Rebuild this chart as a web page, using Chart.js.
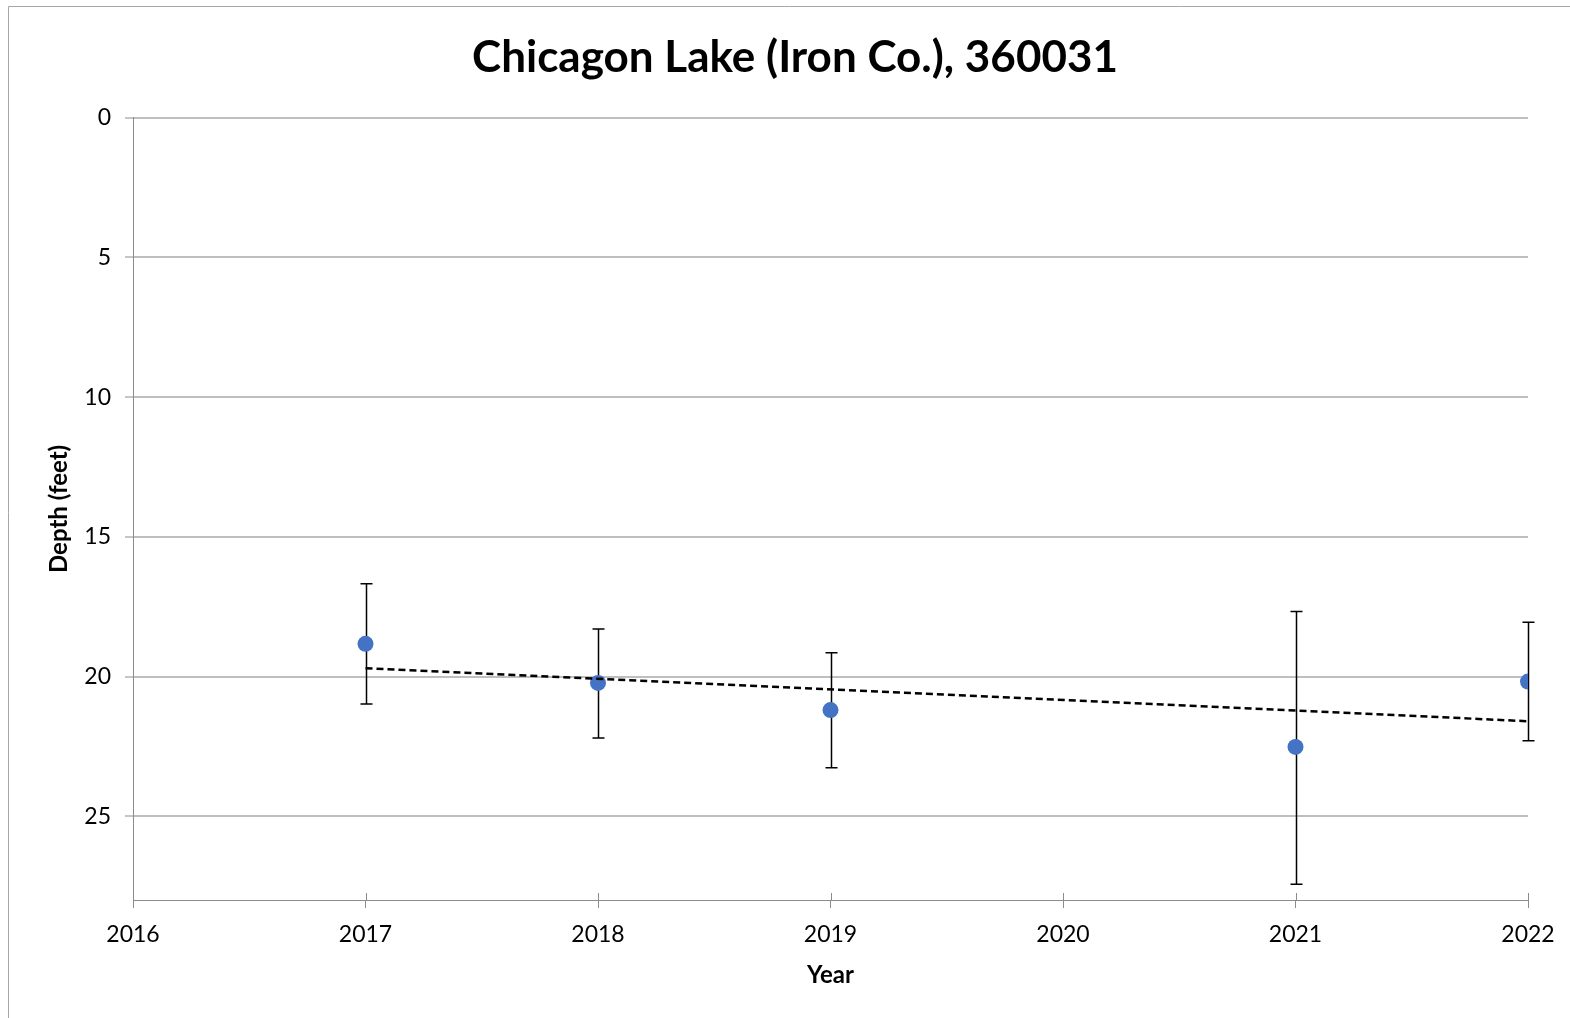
<!DOCTYPE html>
<html>
<head>
<meta charset="utf-8">
<script src="https://cdn.jsdelivr.net/npm/chart.js@4.4.1/dist/chart.umd.min.js"></script>
<style>
    html, body { margin: 0; padding: 0; background: #fff; }
    #wrap { width: 1570px; height: 1018px; position: relative; }
</style>
</head>
<body>
<div id="wrap"><canvas id="depthChart" width="1570" height="1018"></canvas></div>
<script>

// secchi depth by year (feet)
const years = [2017, 2018, 2019, 2021, 2022];
const depths = [18.83, 20.23, 21.2, 22.52, 20.18];
const errPlus = [2.15, 1.97, 2.07, 4.92, 2.12];
const errMinus = [2.15, 1.93, 2.05, 4.85, 2.12];

// linear trend endpoints
const trendYears = [2017, 2022];
const trendDepths = [19.7, 21.6];

const yTicks = [0, 5, 10, 15, 20, 25];

const FONT = "Lato, 'Open Sans', sans-serif";

const errorBars = {
    id: "errorBars",
    beforeDatasetsDraw(chart){
        const {ctx, scales:{x, y}} = chart;
        ctx.save();
        ctx.strokeStyle = "#000";
        ctx.lineWidth = 1.5;
        years.forEach((yr, i) => {
            const px = Math.round(x.getPixelForValue(yr)) + 0.5;
            const top = y.getPixelForValue(depths[i] - errMinus[i]);
            const bot = y.getPixelForValue(depths[i] + errPlus[i]);
            ctx.beginPath();
            ctx.moveTo(px, top);
            ctx.lineTo(px, bot);
            ctx.moveTo(px - 6, top);
            ctx.lineTo(px + 6, top);
            ctx.moveTo(px - 6, bot);
            ctx.lineTo(px + 6, bot);
            ctx.stroke();
        });
        ctx.restore();
    }
};

const frame = {
    id: "frame",
    afterLayout(chart){
        // centre the title on the whole chart box, not the padded area
        if (chart.titleBlock) {
            chart.titleBlock.left = 8;
            chart.titleBlock.right = 1582;
        }
    },
    afterDraw(chart){
        const {ctx, scales:{x}, chartArea} = chart;
        ctx.save();
        ctx.strokeStyle = "#a6a6a6";
        ctx.lineWidth = 1;
        // outer chart border (only left and top are inside the picture)
        ctx.beginPath();
        ctx.moveTo(8.5, 1018);
        ctx.lineTo(8.5, 6.5);
        ctx.lineTo(1570, 6.5);
        ctx.stroke();
        // cross tick marks above the x axis
        ctx.strokeStyle = "#8c8c8c";
        x.ticks.forEach(t => {
            const px = Math.round(x.getPixelForValue(t.value)) + 0.5;
            ctx.beginPath();
            ctx.moveTo(px, chartArea.bottom - 7);
            ctx.lineTo(px, chartArea.bottom);
            ctx.stroke();
        });
        ctx.restore();
    }
};

new Chart(document.getElementById("depthChart"), {

    type: "scatter",

    data: {
        datasets: [
            {
                label: "Trend",
                type: "line",
                data: trendYears.map((yr, i) => ({x: yr, y: trendDepths[i]})),
                borderColor: "#000",
                borderWidth: 2.5,
                borderDash: [7, 4],
                pointRadius: 0,
                fill: false,
                order: 0
            },
            {
                label: "Depth",
                data: years.map((yr, i) => ({x: yr, y: depths[i]})),
                backgroundColor: "#4472C4",
                borderColor: "#4472C4",
                pointRadius: 8,
                pointBorderWidth: 0,
                order: 1
            }
        ]
    },

    options: {
        responsive: false,
        animation: false,
        events: [],
        layout: {
            padding: {left: 0, right: 42, top: 0, bottom: 0}
        },
        plugins: {
            legend: {display: false},
            tooltip: {enabled: false},
            title: {
                display: true,
                text: "Chicagon Lake (Iron Co.), 360031",
                color: "#000",
                font: {family: FONT, size: 44, weight: "bold", lineHeight: 1.2},
                padding: {top: 31, bottom: 34}
            }
        },
        scales: {
            x: {
                type: "linear",
                min: 2016,
                max: 2022,
                afterFit(scale){ scale.height = 118; },
                ticks: {
                    stepSize: 1,
                    color: "#000",
                    padding: 13,
                    maxRotation: 0,
                    font: {family: FONT, size: 23},
                    callback: v => String(v)
                },
                grid: {
                    drawOnChartArea: false,
                    tickLength: 8,
                    tickColor: "#8c8c8c",
                    lineWidth: 1
                },
                border: {color: "#8c8c8c", width: 1},
                title: {
                    display: true,
                    text: "Year",
                    color: "#000",
                    font: {family: FONT, size: 24, weight: "bold", lineHeight: 1.2},
                    padding: {top: 0, bottom: 28}
                }
            },
            y: {
                reverse: true,
                min: 0,
                max: 28,
                afterFit(scale){ scale.width = 133; },
                afterBuildTicks(scale){
                    scale.ticks = yTicks.map(v => ({value: v}));
                },
                ticks: {
                    color: "#000",
                    padding: 14,
                    font: {family: FONT, size: 23}
                },
                grid: {
                    color: "#bfbfbf",
                    lineWidth: 2,
                    tickLength: 8,
                    tickColor: "#8c8c8c",
                    tickWidth: 1
                },
                border: {color: "#8c8c8c", width: 1},
                title: {
                    display: true,
                    text: "Depth (feet)",
                    color: "#000",
                    font: {family: FONT, size: 24, weight: "bold", lineHeight: 1.2},
                    padding: {top: 45, bottom: 0}
                }
            }
        }
    },

    plugins: [errorBars, frame]

});

</script>
</body>
</html>
